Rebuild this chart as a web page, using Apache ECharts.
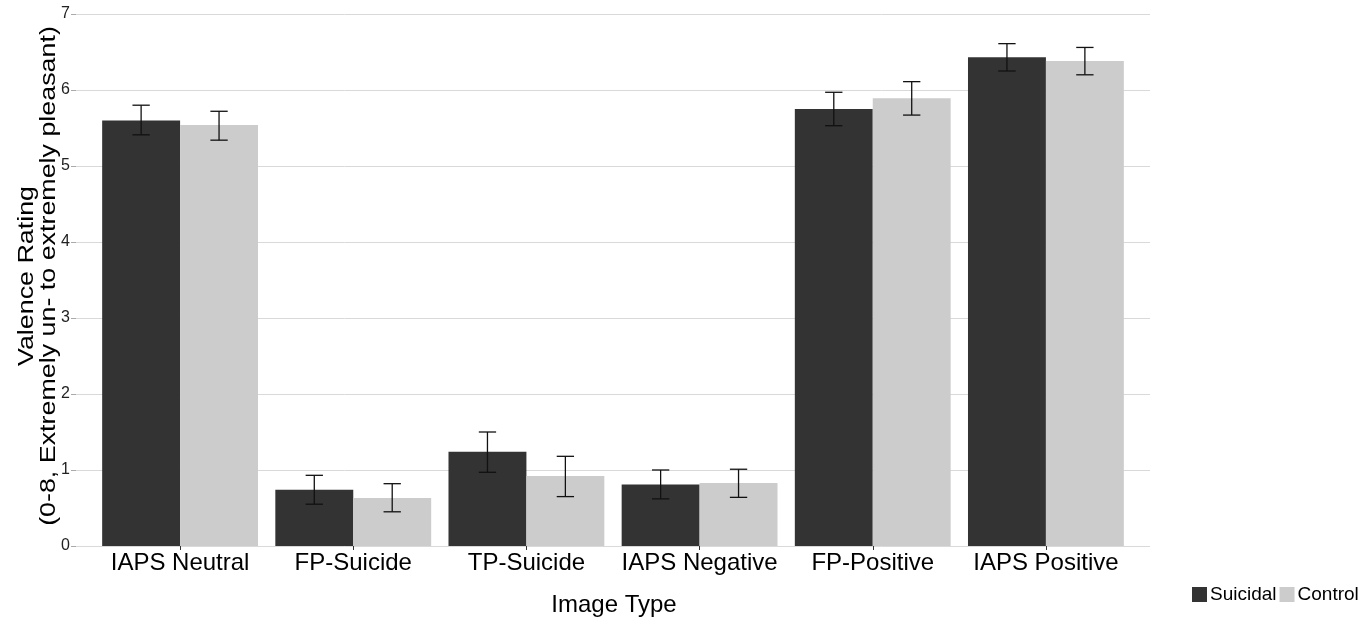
<!DOCTYPE html>
<html>
<head>
<meta charset="utf-8">
<script src="https://cdn.jsdelivr.net/npm/echarts@6/dist/echarts.min.js"></script>
<style>html,body{margin:0;padding:0;background:#fff}#c{width:1365px;height:626px}</style>
</head>
<body>
<div id="c"></div>
<script>
var categories = ['IAPS Neutral', 'FP-Suicide', 'TP-Suicide', 'IAPS Negative', 'FP-Positive', 'IAPS Positive'];
var seriesNames = ['Suicidal', 'Control'];
var suicidal = [5.60, 0.74, 1.24, 0.81, 5.75, 6.43];
var suicidalLow = [5.41, 0.55, 0.97, 0.62, 5.53, 6.25];
var suicidalHigh = [5.80, 0.93, 1.50, 1.00, 5.97, 6.61];
var control = [5.54, 0.63, 0.92, 0.83, 5.89, 6.38];
var controlLow = [5.34, 0.45, 0.65, 0.64, 5.67, 6.20];
var controlHigh = [5.72, 0.82, 1.18, 1.01, 6.11, 6.56];
var yTicks = [0, 1, 2, 3, 4, 5, 6, 7];
var yTitle = 'Valence Rating\n(0-8, Extremely un- to extremely pleasant)';
var xTitle = 'Image Type';

var FONT = '"Liberation Sans", Arial, Helvetica, sans-serif';

function errData(low, high) {
  return categories.map(function (c, i) { return [i, low[i], high[i]]; });
}
function errRender(offset) {
  return function (params, api) {
    var i = api.value(0);
    var lo = api.coord([i, api.value(1)]);
    var hi = api.coord([i, api.value(2)]);
    var band = api.size([1, 0])[0];
    var x = lo[0] + offset * band * 0.225;
    var hw = band * 0.05;
    var st = { stroke: '#111', lineWidth: 1.3 };
    return {
      type: 'group',
      children: [
        { type: 'line', shape: { x1: x, y1: lo[1], x2: x, y2: hi[1] }, style: st },
        { type: 'line', shape: { x1: x - hw, y1: lo[1], x2: x + hw, y2: lo[1] }, style: st },
        { type: 'line', shape: { x1: x - hw, y1: hi[1], x2: x + hw, y2: hi[1] }, style: st }
      ]
    };
  };
}

var chart = echarts.init(document.getElementById('c'), null, { renderer: 'canvas' });
chart.setOption({
  animation: false,
  backgroundColor: '#fff',
  grid: [
    { left: 76, right: 215, top: 14, bottom: 80, containLabel: false, outerBoundsMode: 'none' },
    { left: 93.5, right: 232.5, top: 14, bottom: 80, containLabel: false, outerBoundsMode: 'none' }
  ],
  legend: {
    data: seriesNames,
    orient: 'horizontal',
    left: 1192, top: 585, width: 173,
    padding: 0,
    itemWidth: 15, itemHeight: 15, itemGap: 3,
    icon: 'rect',
    textStyle: { fontFamily: FONT, fontSize: 19, color: '#000', padding: [0, 0, 0, -2] }
  },
  xAxis: [
    { gridIndex: 0, type: 'value', min: 0, max: 1, show: false },
    {
      gridIndex: 1, type: 'category', data: categories,
      boundaryGap: true,
      axisLine: { show: false },
      axisTick: { show: true, alignWithLabel: true, length: 4, lineStyle: { color: '#333' } },
      axisLabel: { interval: 0, hideOverlap: false, fontFamily: FONT, fontSize: 24, color: '#000', margin: 5 },
      splitLine: { show: false }
    }
  ],
  yAxis: [
    {
      gridIndex: 0, type: 'value', min: yTicks[0], max: yTicks[yTicks.length - 1], interval: 1,
      axisLine: { show: false },
      axisTick: { show: true, length: 5, lineStyle: { color: '#aaa' } },
      axisLabel: { fontFamily: FONT, fontSize: 16, color: '#222', margin: 6 },
      splitLine: { show: true, lineStyle: { color: '#d9d9d9', width: 1 } }
    },
    { gridIndex: 1, type: 'value', min: 0, max: 7, interval: 1, show: false }
  ],
  graphic: [
    { type: 'text', x: 614, y: 605, style: { text: xTitle, textAlign: 'center', textVerticalAlign: 'middle', font: '24px ' + FONT, fill: '#000' } },
    { type: 'text', x: 38, y: 276, rotation: Math.PI / 2, scaleX: 1.22, scaleY: 1,
      style: { text: yTitle, textAlign: 'center', textVerticalAlign: 'middle', font: '22px ' + FONT, lineHeight: 22, fill: '#000' } }
  ],
  series: [
    { name: seriesNames[0], type: 'bar', xAxisIndex: 1, yAxisIndex: 1, data: suicidal, barGap: '0%', barCategoryGap: '10%', itemStyle: { color: '#333333' } },
    { name: seriesNames[1], type: 'bar', xAxisIndex: 1, yAxisIndex: 1, data: control, barGap: '0%', barCategoryGap: '10%', itemStyle: { color: '#cccccc' } },
    { type: 'custom', xAxisIndex: 1, yAxisIndex: 1, data: errData(suicidalLow, suicidalHigh), renderItem: errRender(-1), z: 10, clip: false, encode: { x: 0, y: [1, 2] } },
    { type: 'custom', xAxisIndex: 1, yAxisIndex: 1, data: errData(controlLow, controlHigh), renderItem: errRender(1), z: 10, clip: false, encode: { x: 0, y: [1, 2] } }
  ]
});
</script>
</body>
</html>
